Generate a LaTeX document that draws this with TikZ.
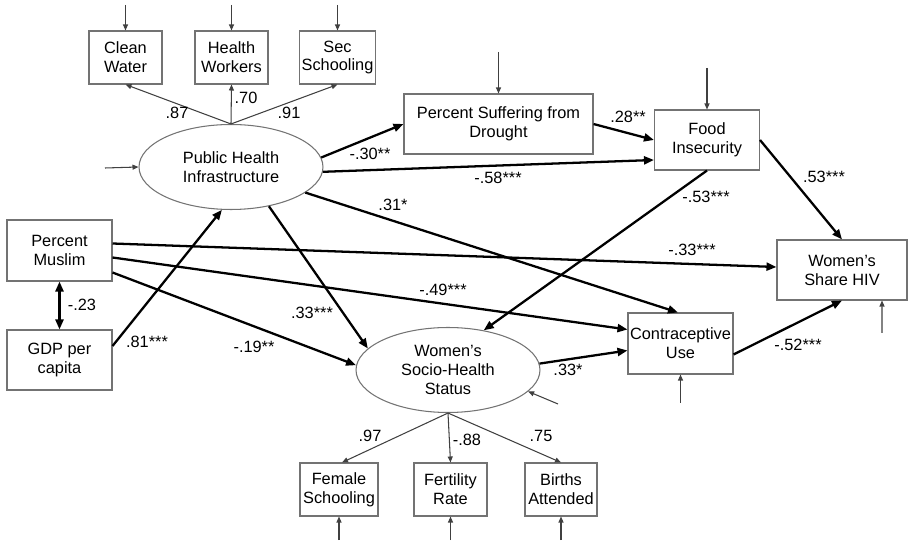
\documentclass[tikz,border=0pt]{standalone}
\usepackage{fontspec}
\setmainfont{Liberation Sans}
\usepackage{tikz}
\usetikzlibrary{shapes.geometric,arrows.meta}

\tikzset{
  obs/.style={draw=black!55, line width=0.6pt, rectangle, align=center, inner sep=1pt, minimum height=1.06cm},
  latent/.style={draw=black!55, line width=0.6pt, ellipse, align=center, inner sep=0pt, minimum width=3.68cm, minimum height=1.7cm},
  struct/.style={-{Triangle[length=0.2cm,width=0.16cm]}, line width=1.3pt},
  load/.style={-{Triangle[length=0.12cm,width=0.1cm]}, line width=0.6pt, draw=black!75},
  coef/.style={inner sep=0pt}
}

\begin{document}
\begin{tikzpicture}[x=0.02cm, y=-0.02cm, font=\fontsize{9.3}{10.8}\selectfont]
\useasboundingbox (0,0) rectangle (909,543);

\node[obs, minimum width=1.46cm] (water) at (125.5,57.5) {Clean\\Water};
\node[obs, minimum width=1.46cm] (workers) at (231.5,57.5) {Health\\Workers};
\node[obs, minimum width=1.46cm] (secschool) at (337.5,57.5) {Sec\\Schooling};
\node[latent] (phi) at (231,167) {Public Health\\Infrastructure};
\node[obs, minimum width=3.78cm, minimum height=1.2cm] (drought) at (498.5,124) {Percent Suffering from\\Drought};
\node[obs, minimum width=2.1cm, minimum height=1.2cm] (food) at (707,140) {Food\\Insecurity};
\node[obs, minimum width=2.6cm, minimum height=1.2cm] (hiv) at (842,270) {Women's\\Share HIV};
\node[obs, minimum width=2.1cm, minimum height=1.22cm] (muslim) at (59.5,250.5) {Percent\\Muslim};
\node[obs, minimum width=2.1cm, minimum height=1.2cm] (gdp) at (59.5,360) {GDP per\\capita};
\node[obs, minimum width=2.1cm, minimum height=1.22cm] (contra) at (680.5,343.5) {Contraceptive\\Use};
\node[latent] (wshs) at (448,370) {Women's\\Socio-Health\\Status};
\node[obs, minimum width=1.56cm] (femschool) at (339,489.5) {Female\\Schooling};
\node[obs, minimum width=1.46cm] (fertility) at (450.5,489.5) {Fertility\\Rate};
\node[obs, minimum width=1.44cm] (births) at (561,489.5) {Births\\Attended};

\coordinate (ewater) at (125.5,5);
\coordinate (eworkers) at (231.5,5);
\coordinate (esecschool) at (337.5,5);
\coordinate (ephi) at (105,168);
\coordinate (edrought) at (498.5,52);
\coordinate (efood) at (707,68);
\coordinate (ehiv) at (882,333);
\coordinate (econtra) at (680.5,403);
\coordinate (ewshs) at (558,404);
\coordinate (efemschool) at (339,540);
\coordinate (efertility) at (450.5,540);
\coordinate (ebirths) at (561,540);

\draw[load] (ewater) -- (water);
\draw[load] (eworkers) -- (workers);
\draw[load] (esecschool) -- (secschool);
\draw[load] (ephi) -- (phi.west);
\draw[load] (edrought) -- (drought);
\draw[load] (efood) -- (food);
\draw[load] (ehiv) -- ([xshift=0.8cm]hiv.south);
\draw[load] (econtra) -- (contra);
\draw[load] (ewshs) -- (wshs.-15);
\draw[load] (efemschool) -- (femschool);
\draw[load] (efertility) -- (fertility);
\draw[load] (ebirths) -- (births);

\draw[load] (phi.north) -- (water.south);
\draw[load] (phi.north) -- (workers.south);
\draw[load] (phi.north) -- (secschool.south);
\draw[load] (wshs.south) -- ([xshift=0.06cm]femschool.north);
\draw[load] (wshs.south) -- (fertility.north);
\draw[load] (wshs.south) -- (births.north);

\draw[struct] (phi.6) -- (drought.west);
\draw[struct] (phi.-3) -- ([yshift=-0.4cm]food.west);
\draw[struct] (phi.-19) -- ([xshift=-0.05cm]contra.north);
\draw[struct] (phi.-46) -- (wshs.165);
\draw[struct] (drought.east) -- (food.west);
\draw[struct] (food.east) -- (hiv.north);
\draw[struct] (food.south) -- (wshs.48);
\draw[struct] ([yshift=0.28cm]gdp.east) -- (phi.-102);
\draw[struct] ([yshift=0.14cm]muslim.east) -- ([yshift=0.06cm]hiv.west);
\draw[struct] ([yshift=-0.14cm]muslim.east) -- ([yshift=0.28cm]contra.west);
\draw[struct] ([yshift=-0.44cm]muslim.east) -- (wshs.177);
\draw[struct] (wshs.4) -- ([yshift=-0.14cm]contra.west);
\draw[struct] ([yshift=-0.22cm]contra.east) -- (hiv.south);
\draw[{Triangle[length=0.2cm,width=0.16cm]}-{Triangle[length=0.2cm,width=0.16cm]}, line width=1.3pt] (muslim.south) -- (gdp.north);

\node[coef] (c87) at (177,113) {.87};
\node[coef] (c70) at (246,98) {.70};
\node[coef] (c91) at (289,113) {.91};
\node[coef] (c30) at (370,154) {-.30**};
\node[coef] (c58) at (498,178) {-.58***};
\node[coef] (c28) at (628,117) {.28**};
\node[coef] (c53a) at (824,177) {.53***};
\node[coef] (c53b) at (706,197) {-.53***};
\node[coef] (c31) at (393,205) {.31*};
\node[coef] (c33a) at (692,250) {-.33***};
\node[coef] (c49) at (443,290) {-.49***};
\node[coef] (c23) at (82,305) {-.23};
\node[coef] (c33b) at (312,313) {.33***};
\node[coef] (c81) at (147,342) {.81***};
\node[coef] (c19) at (254,347) {-.19**};
\node[coef] (c33c) at (568,370) {.33*};
\node[coef] (c52) at (798,345) {-.52***};
\node[coef] (c97) at (370,436) {.97};
\node[coef] (c88) at (467,440) {-.88};
\node[coef] (c75) at (541,436) {.75};
\end{tikzpicture}
\end{document}
